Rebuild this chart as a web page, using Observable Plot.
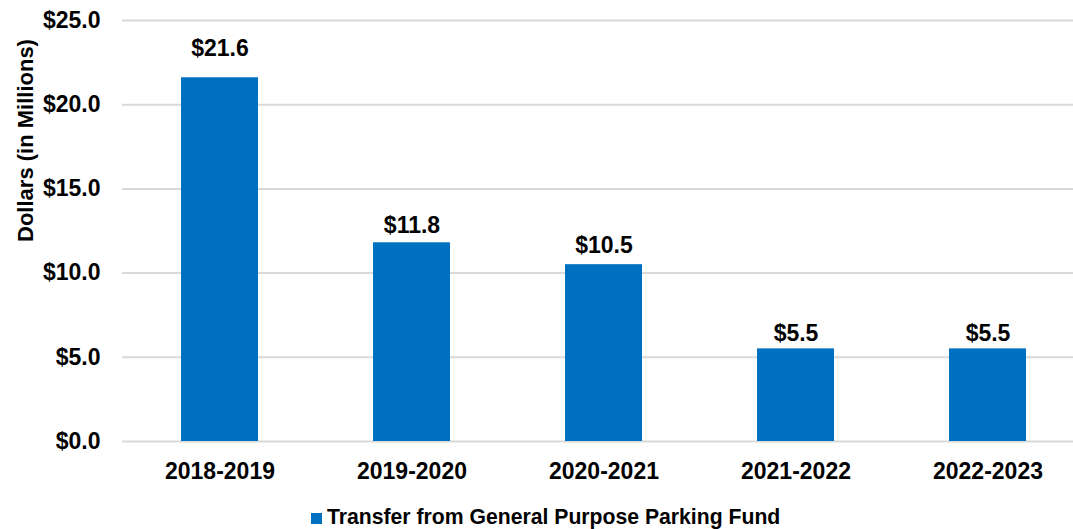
<!DOCTYPE html>
<html>
<head>
<meta charset="utf-8">
<script src="https://cdn.jsdelivr.net/npm/d3@7"></script>
<script src="https://cdn.jsdelivr.net/npm/@observablehq/plot@0.6"></script>
<style>
  html, body { margin: 0; padding: 0; background: #fff; }
  body { width: 1073px; height: 529px; overflow: hidden; font-family: "Liberation Sans", Arial, sans-serif; position: relative; }
  #chart { position: absolute; left: 0; top: 0; }
  #legend { position: absolute; left: 311px; top: 506px; white-space: nowrap; font-weight: bold; font-size: 21.2px; line-height: 21px; color: #000; }
  #legend .sw { display: inline-block; width: 11px; height: 11px; background: #0070C0; margin-right: 5px; vertical-align: 0px; }
</style>
</head>
<body>
<div id="chart"></div>
<div id="legend"><span class="sw"></span>Transfer from General Purpose Parking Fund</div>
<script>
const years = ["2018-2019", "2019-2020", "2020-2021", "2021-2022", "2022-2023"];
const values = [21.6, 11.8, 10.5, 5.5, 5.5];
const yTicks = [0, 5, 10, 15, 20, 25];
const seriesName = "Transfer from General Purpose Parking Fund";
const yTitle = "Dollars (in Millions)";
const barColor = "#0070C0";

const data = years.map((y, i) => ({year: y, value: values[i]}));
const fmt = d => "$" + d.toFixed(1);

// label offsets above each bar (style only)
const labelOffsets = [-29, -17, -19, -15, -15];
const labelMarks = data.map((d, i) =>
  Plot.text([d], {x: "year", y: "value", text: d => fmt(d.value), dy: labelOffsets[i], fontSize: 23, fontWeight: "bold", fill: "#000"})
);

const chart = Plot.plot({
  width: 1073,
  height: 492,
  marginTop: 20,
  marginBottom: 51,
  marginLeft: 122,
  marginRight: -11,
  style: {fontFamily: "'Liberation Sans', Arial, sans-serif", fontWeight: "bold", fontSize: "23px", color: "#000", overflow: "visible"},
  x: {domain: years, paddingInner: 0.6, paddingOuter: 0.3, label: null},
  y: {domain: [0, 25], label: null},
  marks: [
    Plot.gridY(yTicks, {stroke: "#d9d9d9", strokeOpacity: 1, strokeWidth: 2}),
    Plot.barY(data, {x: "year", y: "value", fill: barColor}),
    ...labelMarks,
    Plot.axisY(yTicks, {tickSize: 0, tickPadding: 22, tickFormat: fmt, fontSize: 23, fontWeight: "bold", label: null}),
    Plot.axisX({tickSize: 0, tickPadding: 21, fontSize: 23, fontWeight: "bold", label: null}),
    Plot.text([yTitle], {frameAnchor: "top-left", textAnchor: "middle", lineAnchor: "middle", dx: -97, dy: 120, rotate: -90, fontSize: 22, fontWeight: "bold", fill: "#000"})
  ]
});
document.getElementById("chart").appendChild(chart);
</script>
</body>
</html>
